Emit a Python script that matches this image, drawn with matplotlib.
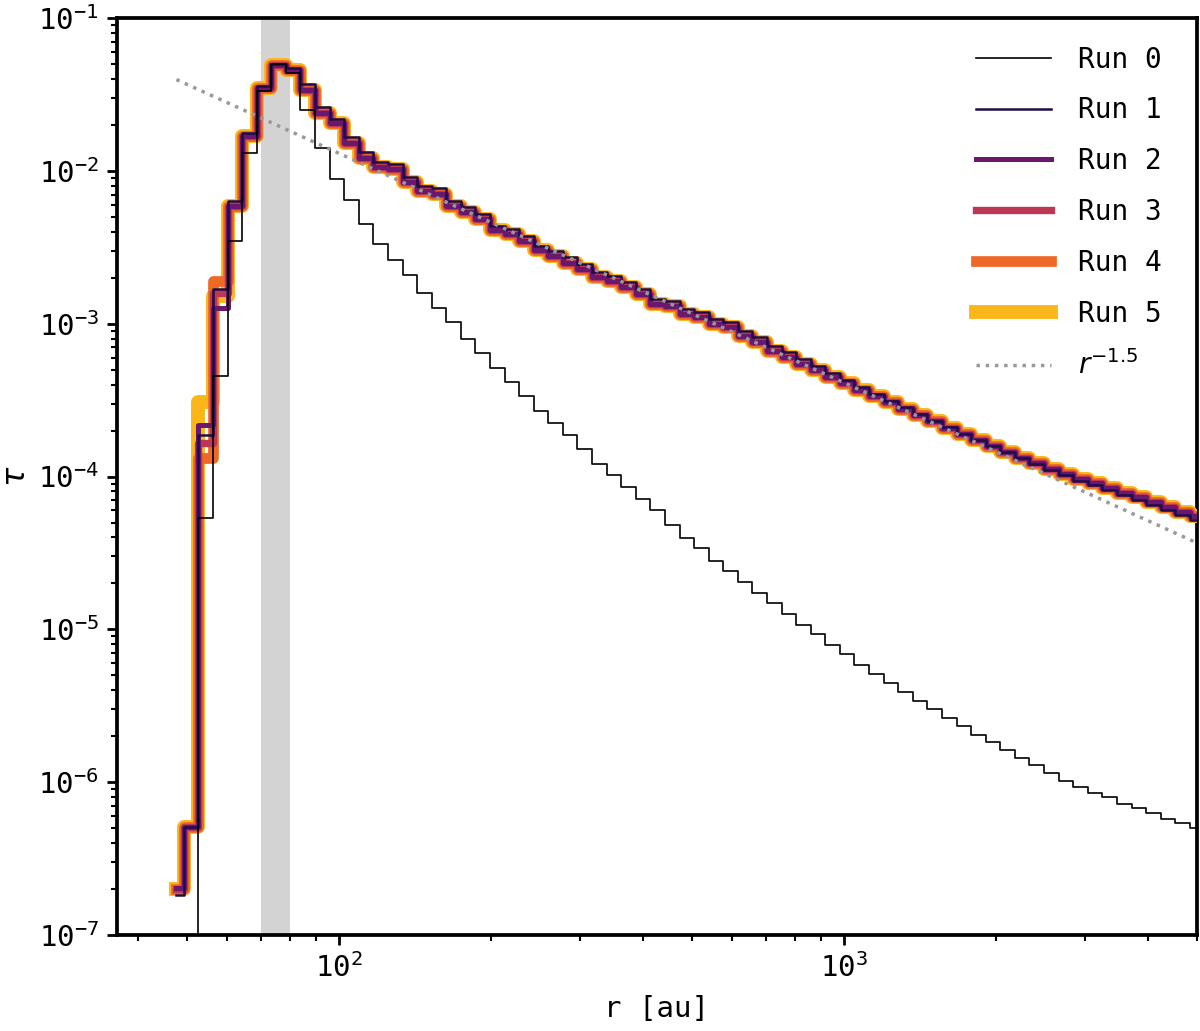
import numpy as np
import matplotlib.pyplot as plt
from matplotlib.ticker import NullFormatter

plt.rcParams['font.family'] = ['DejaVu Sans Mono', 'DejaVu Sans']
plt.rcParams['mathtext.fontset'] = 'custom'
plt.rcParams['mathtext.rm'] = 'DejaVu Sans Mono'
plt.rcParams['mathtext.it'] = 'DejaVu Sans:italic'
plt.rcParams['mathtext.sf'] = 'DejaVu Sans'

# radial bin centres [au], log spaced
r_min, r_max, n_bins = 47.6, 5000.0, 71
r = np.logspace(np.log10(r_min), np.log10(r_max), n_bins)

# log10(tau) per bin (-inf = empty bin)
log_tau_run0 = [-np.inf, -np.inf, -4.27, -3.34, -2.46, -1.88, -1.48, -1.30, -1.36, -1.60,
                -1.85, -2.05, -2.19, -2.35, -2.48, -2.58, -2.68, -2.80, -2.90, -2.99,
                -3.10, -3.19, -3.29, -3.38, -3.47, -3.57, -3.65, -3.73, -3.82, -3.92,
                -3.99, -4.07, -4.15, -4.22, -4.32, -4.40, -4.47, -4.55, -4.62, -4.69,
                -4.76, -4.83, -4.90, -4.97, -5.03, -5.10, -5.16, -5.23, -5.29, -5.35,
                -5.41, -5.47, -5.52, -5.58, -5.63, -5.69, -5.74, -5.79, -5.84, -5.89,
                -5.94, -5.99, -6.03, -6.07, -6.10, -6.14, -6.17, -6.20, -6.24, -6.27,
                -6.30]

log_tau_run1 = [-6.74, -6.29, -3.73, -2.77, -2.20, -1.75, -1.445, -1.30, -1.33, -1.431,
                -1.585, -1.661, -1.78, -1.875, -1.944, -1.955, -2.042, -2.096, -2.114, -2.194,
                -2.238, -2.281, -2.358, -2.38, -2.423, -2.489, -2.522, -2.565, -2.609, -2.664,
                -2.685, -2.729, -2.772, -2.838, -2.849, -2.903, -2.925, -2.969, -2.991, -3.045,
                -3.089, -3.143, -3.187, -3.230, -3.278, -3.323, -3.368, -3.413, -3.458, -3.503,
                -3.548, -3.591, -3.634, -3.677, -3.721, -3.764, -3.803, -3.842, -3.882, -3.921,
                -3.960, -3.993, -4.026, -4.058, -4.091, -4.124, -4.156, -4.189, -4.222, -4.255,
                -4.284]

# runs 2-5 differ only in the first four bins
head_run2 = [-6.69, -6.29, -3.66, -2.90]
head_run3 = [-6.70, -6.29, -3.78, -2.80]
head_run4 = [-6.70, -6.29, -3.88, -2.72]
head_run5 = [-6.70, -6.29, -3.51, -2.82]
tail_runs = [-2.23, -1.77, -1.457, -1.31, -1.34, -1.47, -1.62, -1.69, -1.817, -1.915,
             -1.975, -1.99, -2.072, -2.13, -2.15, -2.229, -2.27, -2.314, -2.39, -2.41,
             -2.458, -2.52, -2.556, -2.60, -2.641, -2.697, -2.72, -2.762, -2.805, -2.87,
             -2.883, -2.936, -2.959, -3.001, -3.024, -3.08, -3.122, -3.178, -3.22, -3.263,
             -3.306, -3.348, -3.389, -3.431, -3.473, -3.514, -3.555, -3.597, -3.638, -3.680,
             -3.721, -3.763, -3.800, -3.838, -3.876, -3.913, -3.951, -3.982, -4.013, -4.044,
             -4.075, -4.106, -4.137, -4.168, -4.199, -4.230, -4.258]

labels = ['Run 0', 'Run 1', 'Run 2', 'Run 3', 'Run 4', 'Run 5']
colors = ['black', '#1f0c48', '#6a176e', '#bc3754', '#ed6925', '#fbb61a']
widths = [1.2, 1.8, 3.6, 5.3, 7.7, 10.0]

# reference power law
slope = -1.5
norm = 13.0

runs = [log_tau_run0, log_tau_run1,
        head_run2 + tail_runs, head_run3 + tail_runs,
        head_run4 + tail_runs, head_run5 + tail_runs]

fig = plt.figure(figsize=(12, 10.31), dpi=100)
ax = fig.add_axes([0.0975, 0.0931, 0.9, 0.8894])

ax.axvspan(70, 80, color='lightgray', lw=0, zorder=0)

for i, (lt, lab, c, w) in enumerate(zip(runs, labels, colors, widths)):
    tau = 10.0 ** np.array(lt)
    z = 10 if i == 0 else 9 - i
    ax.step(r, tau, where='mid', color=c, lw=w, label=lab, zorder=z)

ax.plot(r, norm * r ** slope, ':', color='#999999', lw=2.5,
        label=r'$r^{\mathsf{-1.5}}$', zorder=11)

ax.set_xscale('log')
ax.set_yscale('log')
ax.set_xlim(36.3, 5000)
ax.set_ylim(1e-7, 1e-1)
ax.xaxis.set_minor_formatter(NullFormatter())
ax.yaxis.set_minor_formatter(NullFormatter())

ax.set_xlabel('r [au]', fontsize=21, labelpad=9)
ax.set_ylabel(r'$\tau$', fontsize=23, labelpad=4)

for s in ax.spines.values():
    s.set_linewidth(2.7)
ax.tick_params(which='major', length=7, width=2, labelsize=21, pad=6)
ax.tick_params(which='minor', length=4, width=1.5)

ax.legend(loc='upper right', bbox_to_anchor=(0.978, 0.982), borderaxespad=0,
          frameon=False, fontsize=20, handlelength=2.7,
          handletextpad=1.0, labelspacing=0.82)

fig.savefig('out.png', dpi=100)
